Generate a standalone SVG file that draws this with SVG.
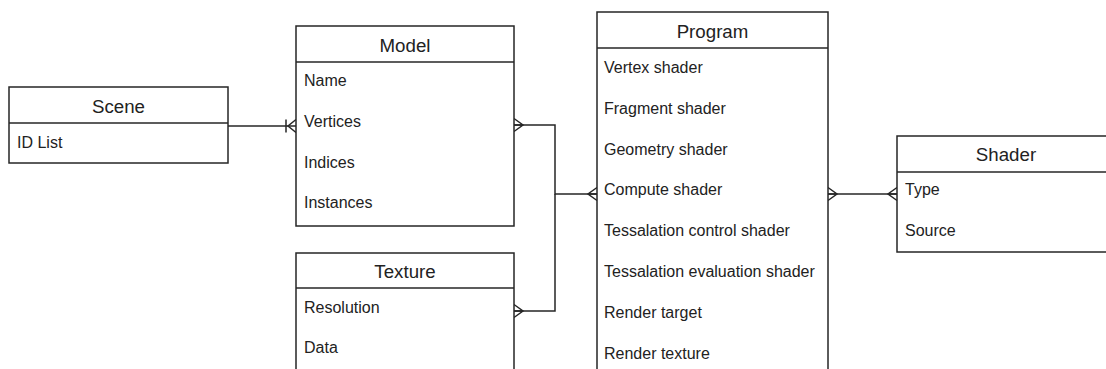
<svg xmlns="http://www.w3.org/2000/svg" width="1106" height="369" viewBox="0 0 1106 369">
<style>
.box{fill:#ffffff;stroke:#262626;stroke-width:1.5}
.div{stroke:#262626;stroke-width:1.5}
.title{font-family:"Liberation Sans",Arial,sans-serif;font-size:18.7px;fill:#222;text-anchor:middle}
.attr{font-family:"Liberation Sans",Arial,sans-serif;font-size:16px;fill:#222}
.conn{fill:none;stroke:#262626;stroke-width:1.5}
</style>
<defs>
<marker id="many" markerUnits="userSpaceOnUse" orient="auto-start-reverse" markerWidth="20" markerHeight="20" viewBox="-12 -10 14 20" refX="0" refY="0" overflow="visible">
<path d="M0,-6.5 L-9,0 L0,6.5 M-9,0 L0,0" fill="none" stroke="#262626" stroke-width="1.5"/>
</marker>
<marker id="oneMany" markerUnits="userSpaceOnUse" orient="auto" markerWidth="20" markerHeight="20" viewBox="-12 -10 14 20" refX="0" refY="0" overflow="visible">
<path d="M0,-6.5 L-8,0 L0,6.5 M-10,-6.5 L-10,6.5" fill="none" stroke="#262626" stroke-width="1.5"/>
</marker>
</defs>
<g id="connectors">
<path class="conn" d="M228,126 H296" marker-end="url(#oneMany)"/>
<path class="conn" d="M514,125 H555 V194 H597" marker-start="url(#many)" marker-end="url(#many)"/>
<path class="conn" d="M514,311 H555 V194" marker-start="url(#many)"/>
<path class="conn" d="M828,194 H897" marker-start="url(#many)" marker-end="url(#many)"/>
</g>
<g id="scene">
<rect class="box" x="9" y="87" width="219" height="76"/>
<line class="div" x1="9" y1="123" x2="228" y2="123"/>
<text class="title" x="118.5" y="113">Scene</text>
<text class="attr" x="17" y="148">ID List</text>
</g>
<g id="model">
<rect class="box" x="296" y="26" width="218" height="200"/>
<line class="div" x1="296" y1="62" x2="514" y2="62"/>
<text class="title" x="405" y="52">Model</text>
<text class="attr" x="304" y="86">Name</text>
<text class="attr" x="304" y="127">Vertices</text>
<text class="attr" x="304" y="167.5">Indices</text>
<text class="attr" x="304" y="208">Instances</text>
</g>
<g id="texture">
<rect class="box" x="296" y="253" width="218" height="130"/>
<line class="div" x1="296" y1="288" x2="514" y2="288"/>
<text class="title" x="405" y="278">Texture</text>
<text class="attr" x="304" y="313">Resolution</text>
<text class="attr" x="304" y="353">Data</text>
</g>
<g id="program">
<rect class="box" x="597" y="12" width="231" height="370"/>
<line class="div" x1="597" y1="48" x2="828" y2="48"/>
<text class="title" x="712.5" y="38">Program</text>
<text class="attr" x="604" y="73">Vertex shader</text>
<text class="attr" x="604" y="113.5">Fragment shader</text>
<text class="attr" x="604" y="154.5">Geometry shader</text>
<text class="attr" x="604" y="195">Compute shader</text>
<text class="attr" x="604" y="236">Tessalation control shader</text>
<text class="attr" x="604" y="276.5">Tessalation evaluation shader</text>
<text class="attr" x="604" y="317.5">Render target</text>
<text class="attr" x="604" y="358.5">Render texture</text>
</g>
<g id="shader">
<rect class="box" x="897" y="136" width="218" height="116"/>
<line class="div" x1="897" y1="172" x2="1115" y2="172"/>
<text class="title" x="1006" y="161">Shader</text>
<text class="attr" x="905" y="195">Type</text>
<text class="attr" x="905" y="235.5">Source</text>
</g>
</svg>
